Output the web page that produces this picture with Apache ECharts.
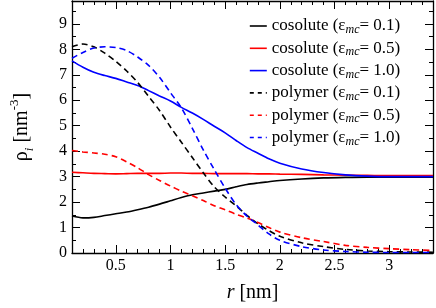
<!DOCTYPE html>
<html><head><meta charset="utf-8">
<script src="https://cdn.jsdelivr.net/npm/echarts@6/dist/echarts.min.js"></script>
<style>html,body{margin:0;padding:0;background:#fff}#c{width:436px;height:308px}</style>
</head><body><div id="c"></div>
<script>
const rValues = [0.1,0.2,0.3,0.4,0.5,0.6,0.7,0.8,0.9,1.0,1.1,1.2,1.3,1.4,1.5,1.6,1.7,1.8,1.9,2.0,2.2,2.4,2.6,2.8,3.0,3.2,3.4];
const cosolute01 = [1.45,1.38,1.40,1.47,1.54,1.61,1.70,1.80,1.92,2.05,2.18,2.29,2.36,2.43,2.50,2.60,2.69,2.75,2.80,2.85,2.91,2.95,2.97,2.98,2.98,2.98,2.98];
const cosolute05 = [3.17,3.15,3.13,3.12,3.11,3.12,3.13,3.13,3.13,3.14,3.14,3.13,3.13,3.12,3.12,3.12,3.12,3.11,3.11,3.10,3.09,3.07,3.06,3.05,3.04,3.04,3.04];
const cosolute10 = [7.55,7.30,7.10,6.97,6.86,6.72,6.58,6.38,6.17,5.97,5.72,5.50,5.25,4.98,4.72,4.42,4.14,3.92,3.70,3.53,3.30,3.16,3.07,3.02,3.00,3.00,3.00];
const polymer01 = [8.10,8.21,8.10,7.85,7.53,7.15,6.70,6.15,5.60,4.95,4.35,3.75,3.15,2.60,2.20,1.85,1.48,1.15,0.88,0.66,0.40,0.25,0.14,0.08,0.05,0.04,0.03];
const polymer05 = [4.03,3.97,3.93,3.88,3.78,3.58,3.35,3.08,2.85,2.63,2.43,2.25,2.06,1.86,1.70,1.52,1.37,1.20,1.00,0.82,0.60,0.45,0.30,0.22,0.17,0.13,0.10];
const polymer10 = [7.65,7.88,8.05,8.10,8.07,7.95,7.70,7.37,6.90,6.30,5.70,4.90,4.05,3.28,2.55,1.90,1.45,1.10,0.75,0.50,0.25,0.12,0.06,0.03,0.02,0.02,0.02];
const xMajorTicks = [0.5,1,1.5,2,2.5,3];
const xMinorTicks = [0.1,0.2,0.3,0.4,0.6,0.7,0.8,0.9,1.1,1.2,1.3,1.4,1.6,1.7,1.8,1.9,2.1,2.2,2.3,2.4,2.6,2.7,2.8,2.9,3.1,3.2,3.3];
const seriesNames = ['cosolute (ε{s|mc}= 0.1)','cosolute (ε{s|mc}= 0.5)','cosolute (ε{s|mc}= 1.0)','polymer (ε{s|mc}= 0.1)','polymer (ε{s|mc}= 0.5)','polymer (ε{s|mc}= 1.0)'];
const seriesData = [cosolute01,cosolute05,cosolute10,polymer01,polymer05,polymer10];
const colors = ['#000000','#ff0000','#0000ff','#000000','#ff0000','#0000ff'];
const dashed = [false,false,false,true,true,true];

const FONT = 'Liberation Serif';
const XMIN = 0.1, XMAX = 3.4, YMIN = 0, YMAX = 9.9;
const chart = echarts.init(document.getElementById('c'), null, {renderer:'canvas'});
const TS = (size, extra) => Object.assign({fontFamily:FONT, fontSize:size, color:'#000', fontWeight:'normal', fontStyle:'normal'}, extra||{});

function xAx(pos, ticks, len, showLine, showLabel){
  return {
    type:'value', position:pos, min:XMIN, max:XMAX, gridIndex:0,
    axisLine:{show:showLine, onZero:false, lineStyle:{color:'#000', width:1.3}},
    axisTick:{show:true, inside:true, length:len, customValues:ticks, lineStyle:{color:'#000', width:1}},
    axisLabel:Object.assign(TS(16), {show:showLabel, customValues:xMajorTicks, margin:5, formatter:v=>String(v)}),
    splitLine:{show:false}
  };
}
function yAx(pos, showLabel){
  return {
    type:'value', position:pos, min:YMIN, max:YMAX, interval:1, gridIndex:0,
    axisLine:{show:true, onZero:false, lineStyle:{color:'#000', width:1.3}},
    axisTick:{show:true, inside:true, length:8, lineStyle:{color:'#000', width:1}},
    minorTick:{show:true, splitNumber:2, length:4, lineStyle:{color:'#000', width:1}},
    axisLabel:Object.assign(TS(16), {show:showLabel, margin:5, showMaxLabel:false}),
    splitLine:{show:false}, minorSplitLine:{show:false}
  };
}
const xAxes = [
  Object.assign(xAx('bottom', xMajorTicks, 8, true, true), {
    name:'{i|r} [nm]', nameLocation:'middle', nameGap:30,
    nameTextStyle:TS(20, {rich:{i:TS(20,{fontStyle:'italic'})}})
  }),
  xAx('bottom', xMinorTicks, 4, false, false),
  xAx('top', xMajorTicks, 8, true, false),
  xAx('top', xMinorTicks, 4, false, false)
];
const yAxes = [
  Object.assign(yAx('left', true), {
    name:'ρ{sub|i} [nm{sup|-3}]', nameLocation:'middle', nameGap:36, nameRotate:90,
    nameTextStyle:TS(20, {lineHeight:28, rich:{
      sub:TS(13,{fontStyle:'italic', lineHeight:10, verticalAlign:'bottom'}),
      sup:TS(13,{lineHeight:10, verticalAlign:'top'})
    }})
  }),
  yAx('right', false)
];

const series = seriesNames.map((n,k)=>({
  name:n, type:'line', xAxisIndex:0, yAxisIndex:0, smooth:0.3, symbol:'none',
  data: rValues.map((r,i)=>[r, seriesData[k][i]]),
  lineStyle:{color:colors[k], width:1.6, type: dashed[k] ? [6,4] : 'solid'},
  itemStyle:{color:colors[k]},
  z: 3
}));

chart.setOption({
  animation:false,
  backgroundColor:'#fff',
  textStyle:{fontFamily:FONT},
  grid:{left:54, right:3, top:1, bottom:42, containLabel:false},
  xAxis:xAxes, yAxis:yAxes,
  legend:{
    orient:'vertical', left:244, top:11, itemWidth:17, itemHeight:14, itemGap:2.3,
    textStyle:TS(17, {lineHeight:20, rich:{s:TS(12,{fontStyle:'italic', lineHeight:8, verticalAlign:'bottom'})}}),
    data: seriesNames.map((n,k)=>({name:n, itemStyle:{opacity:0}, lineStyle:{color:colors[k], width:1.6, type: dashed[k]?[4,4]:'solid'}}))
  },
  series
});
</script></body></html>
